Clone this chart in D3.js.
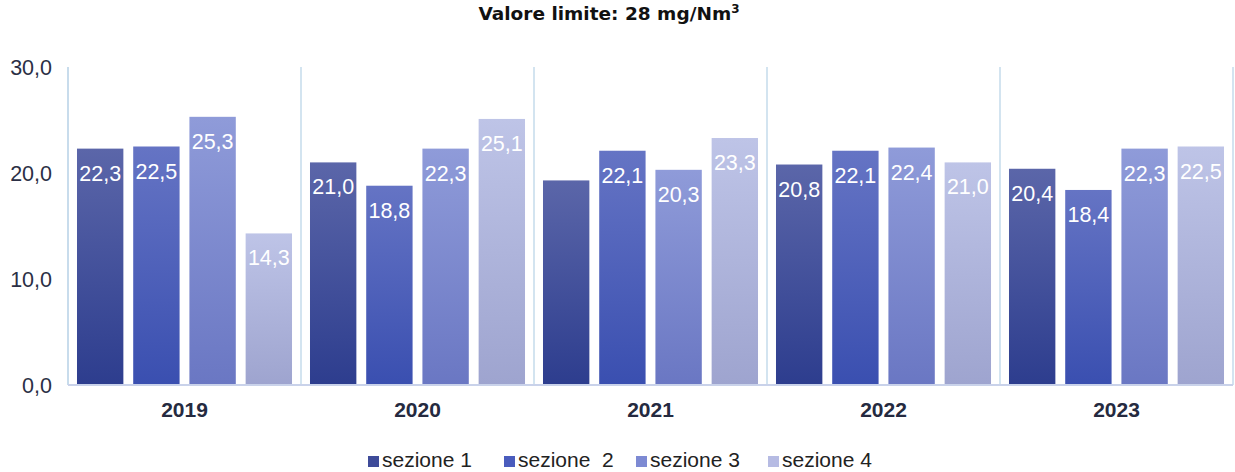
<!DOCTYPE html>
<html>
<head>
<meta charset="utf-8">
<script src="https://cdn.jsdelivr.net/npm/d3@7"></script>
<style>
  body { margin: 0; background: #fff; }
  svg { display: block; }
</style>
</head>
<body>
<svg id="chart"></svg>
<script>
let width = 1235;
let height = 472;

let years = ['2019', '2020', '2021', '2022', '2023'];
let seriesNames = ['sezione 1', 'sezione  2', 'sezione 3', 'sezione 4'];
let sez1 = [22.3, 21.0, 19.3, 20.8, 20.4];
let sez2 = [22.5, 18.8, 22.1, 22.1, 18.4];
let sez3 = [25.3, 22.3, 20.3, 22.4, 22.3];
let sez4 = [14.3, 25.1, 23.3, 21.0, 22.5];
let showLabel = [[true, true, false, true, true], [true, true, true, true, true],
                 [true, true, true, true, true], [true, true, true, true, true]];
let yTicks = [0, 10, 20, 30];
let title = 'Valore limite: 28 mg/Nm';

let series = [sez1, sez2, sez3, sez4];

// gradient colours top -> bottom, legend colour
let gradTop = ['#5b66a9', '#6574c4', '#8f9bd9', '#bec4e7'];
let gradBot = ['#2d3d8e', '#3a4fb0', '#6a77c3', '#9ea4cf'];
let legendCol = ['#3e4b99', '#4a5cbd', '#7d8ad3', '#b6bbe3'];

let margin = { left: 68, right: 2, top: 67, bottom: 87 };

let svg = d3.select('#chart')
            .attr('width', width)
            .attr('height', height);

let defs = svg.append('defs');
gradTop.forEach(function(c, i) {
  let g = defs.append('linearGradient')
              .attr('id', 'grad' + i)
              .attr('x1', 0).attr('y1', 0).attr('x2', 0).attr('y2', 1);
  g.append('stop').attr('offset', '0%').attr('stop-color', c);
  g.append('stop').attr('offset', '100%').attr('stop-color', gradBot[i]);
});

let x0 = d3.scaleBand()
           .domain(years)
           .range([margin.left, width - margin.right])
           .paddingInner(0)
           .paddingOuter(0);

let x1 = d3.scaleBand()
           .domain(d3.range(4))
           .range([0, x0.bandwidth()])
           .paddingInner(0.175)
           .paddingOuter(0.16);

let y = d3.scaleLinear()
          .domain([0, 30])
          .range([height - margin.bottom, margin.top]);

// Title
let t = svg.append('text')
   .attr('x', 609)
   .attr('y', 20)
   .attr('text-anchor', 'middle')
   .style('font-family', 'DejaVu Sans, Verdana, sans-serif')
   .style('font-weight', 'bold')
   .style('font-size', '18.5px')
   .attr('fill', '#111')
   .text(title);
t.append('tspan')
   .attr('dy', -7)
   .style('font-size', '12px')
   .text('3');

// separators and axis lines
svg.append('g')
   .selectAll('line')
   .data(years.slice(1).concat(['end']))
   .enter()
   .append('line')
   .attr('x1', function(d, i) { return x0(years[0]) + (i + 1) * x0.bandwidth(); })
   .attr('x2', function(d, i) { return x0(years[0]) + (i + 1) * x0.bandwidth(); })
   .attr('y1', y(30))
   .attr('y2', y(0))
   .attr('stroke', '#d3e4f0')
   .attr('stroke-width', 2);

svg.append('line')
   .attr('x1', margin.left).attr('x2', margin.left)
   .attr('y1', y(30)).attr('y2', y(0))
   .attr('stroke', '#c8dcec')
   .attr('stroke-width', 2);

// Bars
let groups = svg.append('g')
   .selectAll('g')
   .data(years)
   .enter()
   .append('g')
   .attr('transform', function(d) { return 'translate(' + x0(d) + ',0)'; });

groups.selectAll('rect')
   .data(function(d, yi) { return series.map(function(s, si) { return { si: si, yi: yi, v: s[yi] }; }); })
   .enter()
   .append('rect')
   .attr('x', function(d) { return x1(d.si); })
   .attr('y', function(d) { return y(d.v); })
   .attr('width', x1.bandwidth())
   .attr('height', function(d) { return y(0) - y(d.v); })
   .attr('fill', function(d) { return 'url(#grad' + d.si + ')'; });

groups.selectAll('text')
   .data(function(d, yi) { return series.map(function(s, si) { return { si: si, yi: yi, v: s[yi] }; }); })
   .enter()
   .filter(function(d) { return showLabel[d.si][d.yi]; })
   .append('text')
   .attr('x', function(d) { return x1(d.si) + x1.bandwidth() / 2; })
   .attr('y', function(d) { return y(d.v) + 32; })
   .attr('text-anchor', 'middle')
   .style('font-family', 'Liberation Sans, Arial, sans-serif')
   .style('font-size', '21.5px')
   .attr('fill', '#fff')
   .text(function(d) { return d3.format('.1f')(d.v).replace('.', ','); });

// bottom axis line
svg.append('line')
   .attr('x1', margin.left).attr('x2', width - margin.right)
   .attr('y1', y(0)).attr('y2', y(0))
   .attr('stroke', '#c9d2ea')
   .attr('stroke-width', 2);

// Y tick labels
svg.append('g')
   .selectAll('text')
   .data(yTicks)
   .enter()
   .append('text')
   .attr('x', 52)
   .attr('y', function(d) { return y(d) + 8; })
   .attr('text-anchor', 'end')
   .style('font-family', 'Liberation Sans, Arial, sans-serif')
   .style('font-size', '21.5px')
   .attr('fill', '#2b2f45')
   .text(function(d) { return d3.format('.1f')(d).replace('.', ','); });

// Year labels
svg.append('g')
   .selectAll('text')
   .data(years)
   .enter()
   .append('text')
   .attr('x', function(d) { return x0(d) + x0.bandwidth() / 2; })
   .attr('y', 417)
   .attr('text-anchor', 'middle')
   .style('font-family', 'Liberation Sans, Arial, sans-serif')
   .style('font-weight', 'bold')
   .style('font-size', '21px')
   .attr('fill', '#252a40')
   .text(function(d) { return d; });

// Legend
let legendX = [368, 504, 636, 768];
let legend = svg.append('g');
legend.selectAll('rect')
   .data(seriesNames)
   .enter()
   .append('rect')
   .attr('x', function(d, i) { return legendX[i]; })
   .attr('y', 456)
   .attr('width', 11)
   .attr('height', 11)
   .attr('fill', function(d, i) { return legendCol[i]; });

legend.selectAll('text')
   .data(seriesNames)
   .enter()
   .append('text')
   .attr('x', function(d, i) { return legendX[i] + 14; })
   .attr('y', 467)
   .attr('xml:space', 'preserve')
   .style('white-space', 'pre')
   .style('font-family', 'Liberation Sans, Arial, sans-serif')
   .style('font-size', '21px')
   .attr('fill', '#222')
   .text(function(d) { return d; });
</script>
</body>
</html>
